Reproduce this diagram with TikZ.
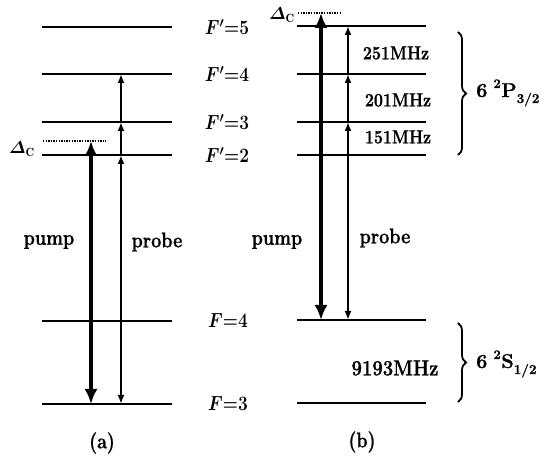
\documentclass[tikz,border=0pt]{standalone}
\usepackage{amsmath}
\usepackage{fontspec}
\newfontfamily\fbf{Latin Modern Roman}[BoldFeatures={FakeBold=1}]
\newcommand{\tallt}[1]{\scalebox{1}[1.18]{#1}}
\newcommand{\termlab}[3]{#1\hspace{6pt}\raisebox{9pt}{\fontsize{13}{14}\selectfont #2}\hspace{0.5pt}#3}
\usetikzlibrary{arrows.meta,decorations.pathreplacing}
\tikzset{
  level/.style={line width=2pt},
  dotlev/.style={line width=1.8pt, dash pattern=on 1.4pt off 1.2pt},
  pumparr/.style={line width=4.5pt, {Latex[length=15pt,width=13pt]}-{Latex[length=15pt,width=13pt]}},
  probeboth/.style={line width=2pt, {Latex[length=9pt,width=7pt]}-{Latex[length=9pt,width=7pt]}},
  probeup/.style={line width=2pt, -{Latex[length=9pt,width=7pt]}},
  flab/.style={font=\fbf\bfseries\fontsize{18.5}{22}\selectfont\boldmath, inner sep=0pt},
  wlab/.style={font=\fbf\bfseries\fontsize{18}{22}\selectfont, inner sep=0pt},
  mlab/.style={font=\fbf\bfseries\fontsize{16}{20}\selectfont, inner sep=0pt},
  dlab/.style={font=\fbf\bfseries\fontsize{17}{20}\selectfont\boldmath, inner sep=0pt},
  slab/.style={font=\fbf\bfseries\fontsize{20}{24}\selectfont, inner sep=0pt, anchor=base west},
  brc/.style={line width=1.8pt, decorate, decoration={brace, amplitude=8pt}},
}
\begin{document}
\begin{tikzpicture}[x=1pt,y=-1pt]
\useasboundingbox (0,0) rectangle (542,457);
% ---------- (a) ----------
\foreach \yy in {27,74,122,155,321,404} \draw[level] (42,\yy) -- (172,\yy);
\draw[dotlev] (43,141) -- (106,141);
\coordinate (aP0) at (91,404);
\coordinate (aP1) at (91,141);
\coordinate (aQ0) at (121,404);
\coordinate (aQ1) at (121,155);
\coordinate (aQ2) at (121,122);
\coordinate (aQ3) at (121,74);
\draw[pumparr] (aP0) -- (aP1);
\draw[probeboth] (aQ0) -- (aQ1);
\draw[probeup] (aQ1) -- (aQ2);
\draw[probeup] (aQ2) -- (aQ3);
\node[flab] (af5) at (227,27) {\tallt{$F'{=}5$}};
\node[flab] (af4) at (227,74) {\tallt{$F'{=}4$}};
\node[flab] (af3) at (227,122) {\tallt{$F'{=}3$}};
\node[flab] (af2) at (227,155) {\tallt{$F'{=}2$}};
\node[flab] (ag4) at (228,321) {\tallt{$F{=}4$}};
\node[flab] (ag3) at (228,404) {\tallt{$F{=}3$}};
\node[dlab] (adc) at (22,149) {$\varDelta_{\mathrm{C}}$};
\node[wlab] (apump) at (49,242) {\tallt{pump}};
\node[wlab] (aprobe) at (157,242) {\tallt{probe}};
\node[wlab] (acap) at (102,443) {\tallt{(a)}};
% ---------- (b) ----------
\foreach \yy in {26,74,122,155,320,403} \draw[level] (297,\yy) -- (426,\yy);
\draw[dotlev] (298,13) -- (340,13);
\coordinate (bP0) at (321,320);
\coordinate (bP1) at (321,13);
\coordinate (bQ0) at (348,320);
\coordinate (bQ1) at (348,122);
\coordinate (bQ2) at (348,74);
\coordinate (bQ3) at (348,26);
\draw[pumparr] (bP0) -- (bP1);
\draw[probeboth] (bQ0) -- (bQ1);
\draw[probeup] (bQ1) -- (bQ2);
\draw[probeup] (bQ2) -- (bQ3);
\node[dlab] (bdc) at (282,15) {$\varDelta_{\mathrm{C}}$};
\node[mlab] (m251) at (396,53) {\tallt{251MHz}};
\node[mlab] (m201) at (398,100) {\tallt{201MHz}};
\node[mlab] (m151) at (398,137) {\tallt{151MHz}};
\node[font=\fbf\bfseries\fontsize{18.5}{22}\selectfont, inner sep=0pt] (m9193) at (395,368) {\tallt{9193MHz}};
\node[wlab] (bpump) at (277,242) {\tallt{pump}};
\node[wlab] (bprobe) at (385,238) {\tallt{probe}};
\node[wlab] (bcap) at (362,442) {\tallt{(b)}};
\coordinate (br1a) at (458,32);
\coordinate (br1b) at (458,155);
\coordinate (br2a) at (458,323);
\coordinate (br2b) at (458,402);
\draw[brc] (br1a) -- (br1b);
\draw[brc] (br2a) -- (br2b);
\node[slab] (p32) at (476,97) {\termlab{6}{2}{P\raisebox{-6pt}{\fontsize{13.5}{15}\selectfont 3/2}}};
\node[slab] (s12) at (476,368) {\termlab{6}{2}{S\raisebox{-6pt}{\fontsize{13.5}{15}\selectfont 1/2}}};
\end{tikzpicture}
\end{document}
